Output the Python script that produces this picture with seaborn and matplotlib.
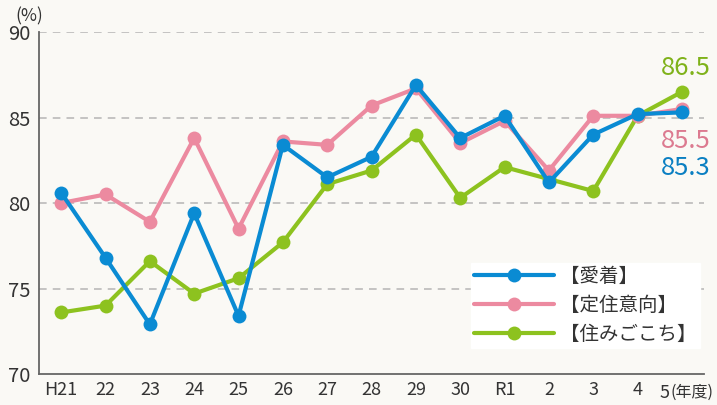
import matplotlib
matplotlib.use("Agg")
import matplotlib.pyplot as plt
from matplotlib.lines import Line2D
import seaborn as sns
import pandas as pd

years = ["H21", "22", "23", "24", "25", "26", "27", "28", "29", "30", "R1", "2", "3", "4", "5"]
aichaku = [80.6, 76.8, 72.9, 79.4, 73.4, 83.4, 81.5, 82.7, 86.9, 83.8, 85.1, 81.2, 84.0, 85.2, 85.3]
teiju = [80.0, 80.5, 78.9, 83.8, 78.5, 83.6, 83.4, 85.7, 86.7, 83.5, 84.8, 81.9, 85.1, 85.1, 85.5]
sumigokochi = [73.6, 74.0, 76.6, 74.7, 75.6, 77.7, 81.1, 81.9, 84.0, 80.3, 82.1, 81.4, 80.7, 85.1, 86.5]
series_names = ["【愛着】", "【定住意向】", "【住みごこち】"]
y_ticks = [70, 75, 80, 85, 90]

colors = {"【愛着】": "#0a8bd3", "【定住意向】": "#ec8aa0", "【住みごこち】": "#8dc21f"}
label_colors = {"【愛着】": "#0a7fc2", "【定住意向】": "#dc7a90", "【住みごこち】": "#7fb21a"}
values = {"【愛着】": aichaku, "【定住意向】": teiju, "【住みごこち】": sumigokochi}

sns.set_style("white")
plt.rcParams["font.family"] = ["Noto Sans CJK JP", "DejaVu Sans"]

bg = "#faf9f5"
fig = plt.figure(figsize=(7.17, 4.05), dpi=100, facecolor=bg)
ax = fig.add_axes([0.0544, 0.0765, 0.9276, 0.8445])
ax.set_facecolor(bg)

# grid lines
for yv in y_ticks[1:]:
    ax.axhline(yv, color="#b5b5b5", lw=1.1, ls=(0, (5, 4)), zorder=0)

draw_order = ["【住みごこち】", "【定住意向】", "【愛着】"]
for name in draw_order:
    df = pd.DataFrame({"x": range(len(years)), "y": values[name]})
    sns.lineplot(data=df, x="x", y="y", ax=ax, color=colors[name], lw=3.0,
                 marker="o", markersize=10, markeredgewidth=0, zorder=3)

# end value labels
offsets = {"【住みごこち】": 17, "【定住意向】": -23, "【愛着】": -40}
for name in draw_order:
    v = values[name][-1]
    ax.annotate(f"{v:.1f}", xy=(len(years) - 1, v), xytext=(3, offsets[name]),
                textcoords="offset points", ha="center", va="center",
                fontsize=18.5, color=label_colors[name])

ax.set_xlim(-0.5, 14.5)
ax.set_ylim(70, 90)
ax.set_xticks(range(len(years)))
ax.set_xticklabels(years[:-1] + [""], fontsize=13, color="#333333")
ax.set_yticks(y_ticks)
ax.set_yticklabels([str(t) for t in y_ticks], fontsize=14.5, color="#333333")
ax.tick_params(axis="x", direction="in", length=8, width=1.2, color="#555555", pad=5)
ax.tick_params(axis="y", length=0, pad=6)
ax.set_xlabel("")
ax.set_ylabel("")

for s in ["top", "right"]:
    ax.spines[s].set_visible(False)
for s in ["left", "bottom"]:
    ax.spines[s].set_color("#666666")
    ax.spines[s].set_linewidth(1.3)

# last tick label with unit, shifted left as in the reference
fig.text(665 / 717, 1 - 393 / 405, years[-1], ha="center", va="center", fontsize=13, color="#333333")
fig.text(670 / 717, 1 - 392 / 405, "(年度)", ha="left", va="center", fontsize=11.5, color="#333333")
fig.text(29 / 717, 1 - 16 / 405, "(%)", ha="center", va="center", fontsize=12.5, color="#333333")

handles = [Line2D([0], [0], color=colors[n], lw=3.0, marker="o", markersize=10,
                  markeredgewidth=0) for n in series_names]
leg = fig.legend(handles, series_names, loc="upper left",
                 bbox_to_anchor=(471 / 717, 1 - 263 / 405), bbox_transform=fig.transFigure,
                 frameon=True, fontsize=14, handlelength=4.1, handletextpad=0.35,
                 labelspacing=0.42, borderpad=0.15, borderaxespad=0, fancybox=False)
leg.get_frame().set_facecolor("white")
leg.get_frame().set_edgecolor("white")
leg.get_frame().set_alpha(1)
for t in leg.get_texts():
    t.set_color("#333333")

fig.savefig("out.png", dpi=100, facecolor=bg)
